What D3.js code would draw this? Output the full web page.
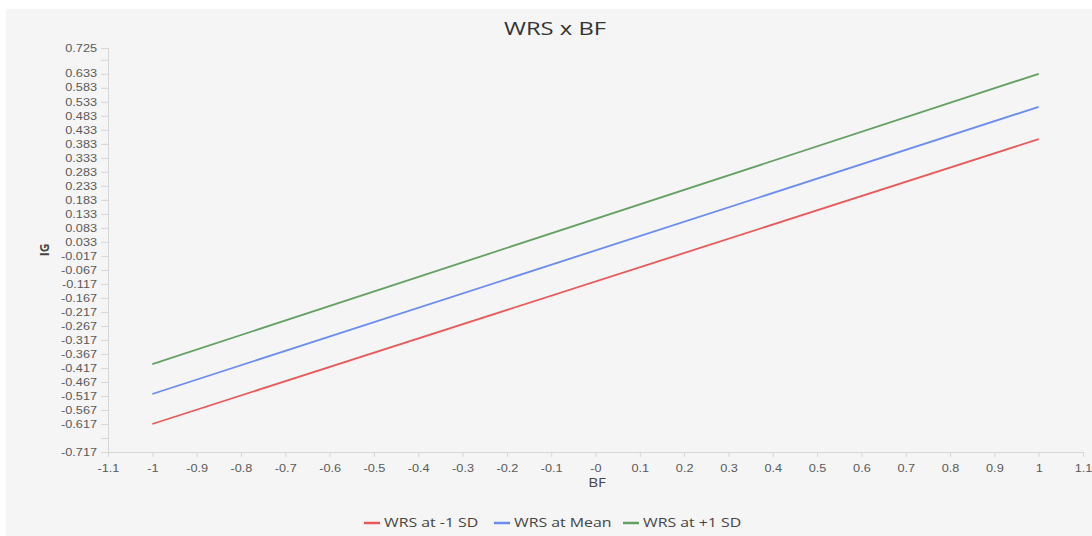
<!DOCTYPE html>
<html>
<head>
<meta charset="utf-8">
<script src="https://cdn.jsdelivr.net/npm/d3@7"></script>
<style>
  body { margin: 0; background: #fff; font-family: "Open Sans", "Noto Sans", sans-serif; }
  .axis text { fill: #5a5a5a; font-size: 10px; }
  .axis path, .axis line { stroke: #d6d6d6; }
</style>
</head>
<body>
<svg id="chart"></svg>
<script>
// data
const xValues = [-1, 1];
const seriesNames = ['WRS at -1 SD', 'WRS at Mean', 'WRS at +1 SD'];
const seriesColors = ['#e85a5a', '#6a8cf0', '#64a064'];
const redValues = [-0.617, 0.400];
const blueValues = [-0.510, 0.515];
const greenValues = [-0.403, 0.633];

const xTicks = [-1.1, -1, -0.9, -0.8, -0.7, -0.6, -0.5, -0.4, -0.3, -0.2, -0.1, 0,
                0.1, 0.2, 0.3, 0.4, 0.5, 0.6, 0.7, 0.8, 0.9, 1, 1.1];
const xTickLabels = ['-1.1', '-1', '-0.9', '-0.8', '-0.7', '-0.6', '-0.5', '-0.4', '-0.3', '-0.2', '-0.1', '-0',
                     '0.1', '0.2', '0.3', '0.4', '0.5', '0.6', '0.7', '0.8', '0.9', '1', '1.1'];
const yTicks = [-0.717, -0.667, -0.617, -0.567, -0.517, -0.467, -0.417, -0.367, -0.317, -0.267,
                -0.217, -0.167, -0.117, -0.067, -0.017, 0.033, 0.083, 0.133, 0.183, 0.233,
                0.283, 0.333, 0.383, 0.433, 0.483, 0.533, 0.583, 0.633, 0.683, 0.725];
const yTickLabels = ['-0.717', '', '-0.617', '-0.567', '-0.517', '-0.467', '-0.417', '-0.367', '-0.317', '-0.267',
                     '-0.217', '-0.167', '-0.117', '-0.067', '-0.017', '0.033', '0.083', '0.133', '0.183', '0.233',
                     '0.283', '0.333', '0.383', '0.433', '0.483', '0.533', '0.583', '0.633', '', '0.725'];

const width = 1092, height = 536;
const margin = {top: 48, right: 9, bottom: 84, left: 108};
// the reference text is drawn wide, so stretch it horizontally
const stretch = 1.27;

const svg = d3.select('#chart')
    .attr('width', width)
    .attr('height', height);

// grey panel
svg.append('rect')
    .attr('x', 6).attr('y', 9)
    .attr('width', width - 6).attr('height', height - 9)
    .attr('fill', '#f5f5f5');

const xScale = d3.scaleLinear()
    .domain([-1.1, 1.1])
    .range([margin.left, width - margin.right]);

const yScale = d3.scaleLinear()
    .domain([-0.717, 0.725])
    .range([height - margin.bottom, margin.top]);

const xAxis = d3.axisBottom(xScale)
    .tickValues(xTicks)
    .tickFormat((d, i) => xTickLabels[i])
    .tickSizeOuter(0)
    .tickSize(5);

const yAxis = d3.axisLeft(yScale)
    .tickValues(yTicks)
    .tickFormat((d, i) => yTickLabels[i])
    .tickSizeOuter(0)
    .tickSize(7);

svg.append('g')
    .attr('class', 'axis x-axis')
    .attr('transform', `translate(0,${height - margin.bottom})`)
    .call(xAxis)
    .call(g => g.selectAll('text')
        .attr('dy', '1.25em')
        .attr('transform', `scale(${stretch},1)`));

svg.append('g')
    .attr('class', 'axis y-axis')
    .attr('transform', `translate(${margin.left},0)`)
    .call(yAxis)
    .call(g => g.selectAll('text')
        .attr('x', -11 / stretch)
        .attr('transform', `scale(${stretch},1)`));

// title and axis labels
svg.append('text')
    .attr('transform', 'translate(555,35) scale(1.36,1)')
    .attr('text-anchor', 'middle')
    .attr('fill', '#333')
    .style('font-size', '17.5px')
    .text('WRS x BF');

svg.append('text')
    .attr('transform', `translate(597,487) scale(${stretch},1)`)
    .attr('text-anchor', 'middle')
    .attr('fill', '#444')
    .style('font-size', '12px')
    .text('BF');

svg.append('text')
    .attr('transform', 'translate(49,250) rotate(-90)')
    .attr('text-anchor', 'middle')
    .attr('fill', '#444')
    .style('font-size', '12px')
    .style('font-weight', 'bold')
    .text('IG');

// lines
const allSeries = [redValues, blueValues, greenValues];
const line = d3.line()
    .x((d, i) => xScale(xValues[i]))
    .y(d => yScale(d));

svg.selectAll('.series')
    .data(allSeries)
  .join('path')
    .attr('class', 'series')
    .attr('d', d => line(d))
    .attr('fill', 'none')
    .attr('stroke', (d, i) => seriesColors[i])
    .attr('stroke-width', 1.8);

// legend
const legendX = [364, 494, 623];
const legend = svg.selectAll('.legend')
    .data(seriesNames)
  .join('g')
    .attr('class', 'legend')
    .attr('transform', (d, i) => `translate(${legendX[i]},523)`);

legend.append('line')
    .attr('x1', 0).attr('x2', 16)
    .attr('stroke', (d, i) => seriesColors[i])
    .attr('stroke-width', 2.5);

legend.append('text')
    .attr('transform', `translate(20,0) scale(${stretch},1)`)
    .attr('dy', '0.35em')
    .attr('fill', '#444')
    .style('font-size', '12.5px')
    .text(d => d);
</script>
</body>
</html>
